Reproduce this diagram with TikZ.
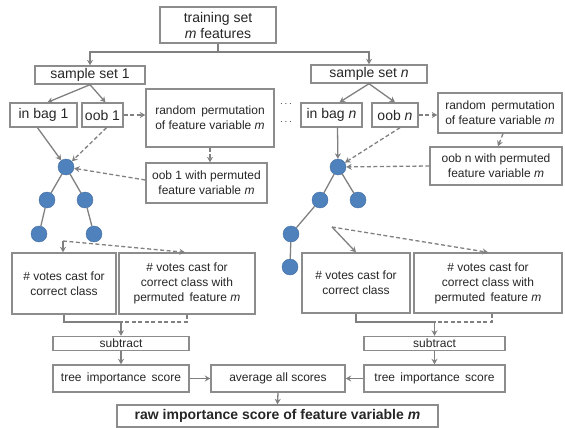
\documentclass[tikz,border=0pt]{standalone}
\usepackage{fontspec}
\setmainfont{Liberation Sans}
\usetikzlibrary{arrows.meta,calc}
\definecolor{boxgray}{HTML}{8C8C8C}
\definecolor{linegray}{HTML}{808080}
\definecolor{treeblue}{HTML}{4F81BD}
\definecolor{txt}{HTML}{262626}
\begin{document}
\begin{tikzpicture}[x=1pt,y=-1pt,
  box/.style={draw=boxgray, line width=1.4pt, inner sep=0pt, align=center, text=txt, font=\fontsize{12}{15}\selectfont},
  bigbox/.style={box, font=\fontsize{14}{16}\selectfont},
  leaf/.style={circle, fill=treeblue, draw=treeblue!85!black, line width=0.4pt, minimum size=16pt, inner sep=0pt},
  conn/.style={draw=linegray, line width=1.3pt},
  arr/.style={conn, -{Stealth[length=5.5pt,width=6pt]}},
  dashln/.style={dash pattern=on 4pt off 2.5pt},
]
\useasboundingbox (0,0) rectangle (565,428);

% top
\node[bigbox, minimum width=116pt, minimum height=36pt] (train) at (218,25) {training set\\\textit{m} features};
\node[bigbox, minimum width=110pt, minimum height=18pt] (ss1) at (90,75) {sample set 1};
\node[bigbox, minimum width=116pt, minimum height=18pt] (ssn) at (369,74) {sample set \textit{n}};
\coordinate (split) at (218,52);
\draw[conn] (train.south) -- (split);
\draw[arr] (split) -| (ss1.north);
\draw[arr] (split) -| (ssn.north);

% second row
\node[bigbox, minimum width=67pt, minimum height=24pt] (inbag1) at (43.5,115) {in bag 1};
\node[bigbox, minimum width=41pt, minimum height=24pt] (oob1) at (102.5,115) {oob 1};
\node[box, minimum width=128pt, minimum height=58pt] (rp1) at (210,118) {random\, permutation\\of feature variable \textit{m}};
\node[bigbox, minimum width=61pt, minimum height=24pt] (inbagn) at (331.5,115) {in bag \textit{n}};
\node[bigbox, minimum width=46pt, minimum height=24pt] (oobn) at (395,115) {oob \textit{n}};
\node[box, minimum width=124pt, minimum height=40pt] (rpn) at (500,113) {random\, permutation\\of feature variable \textit{m}};
\node[text=txt, inner sep=0pt] (dotsa) at (286,104) {$\cdots$};
\node[text=txt, inner sep=0pt] (dotsb) at (286,122) {$\cdots$};

\draw[arr] (ss1.south) -- ([xshift=4pt]inbag1.north);
\draw[arr] (ss1.south) -- ([xshift=3pt]oob1.north);
\draw[arr] (ssn.south) -- ([xshift=8pt]inbagn.north);
\draw[arr] (ssn.south) -- (oobn.north);
\draw[arr, dashln] (oob1.east) -- (oob1.east -| rp1.west);
\draw[arr, dashln] (oobn.east) -- (oobn.east -| rpn.west);

% permuted oob boxes
\node[box, minimum width=121pt, minimum height=40pt] (oobp1) at (206.5,183) {oob 1 with permuted\\feature variable \textit{m}};
\node[box, minimum width=132pt, minimum height=38pt] (oobpn) at (496,166) {oob n with permuted\\feature variable \textit{m}};
\draw[arr, dashln] (rp1.south) -- (rp1.south |- oobp1.north);
\draw[arr, dashln] ([xshift=3pt]rpn.south) -- ([xshift=2pt]oobpn.north);

% tree 1
\node[leaf] (r1) at (66,167) {};
\node[leaf] (a1) at (47,200) {};
\node[leaf] (b1) at (85,200) {};
\node[leaf] (c1) at (39,234) {};
\node[leaf] (d1) at (94,234) {};
\draw[conn] (r1) -- (a1);
\draw[conn] (r1) -- (b1);
\draw[conn] (a1) -- (c1);
\draw[conn] (b1) -- (d1);
\draw[arr] ([xshift=-6pt]inbag1.south) -- (r1);
\draw[arr, dashln] ([xshift=4pt]oob1.south) -- (r1);
\draw[arr, dashln] ([yshift=3pt]oobp1.west) -- (r1);

% tree n
\node[leaf] (rn) at (338,167) {};
\node[leaf] (an) at (320,200) {};
\node[leaf] (bn) at (358,200) {};
\node[leaf] (cn) at (291,234) {};
\node[leaf] (dn) at (290,267) {};
\draw[conn] (rn) -- (an);
\draw[conn] (rn) -- (bn);
\draw[conn] (an) -- (cn);
\draw[conn] (cn) -- (dn);
\draw[arr] ([xshift=6pt]inbagn.south) -- (rn);
\draw[arr, dashln] ([xshift=5pt]oobn.south) -- (rn);
\draw[arr, dashln] (oobpn.west) -- (rn);

% votes boxes
\node[box, minimum width=104pt, minimum height=61pt] (va) at (64,283.5) {\# votes cast for\\correct class};
\node[box, minimum width=136pt, minimum height=61pt] (vb) at (187,283.5) {\# votes cast for\\correct class with\\permuted\, feature \textit{m}};
\node[box, minimum width=108pt, minimum height=60pt] (vc) at (356,283) {\# votes cast for\\correct class};
\node[box, minimum width=148pt, minimum height=60pt] (vd) at (488,283) {\# votes cast for\\correct class with\\permuted\, feature \textit{m}};

\coordinate (t1) at (63,241);
\draw[arr] (t1) -- (t1 |- va.north);
\draw[arr, dashln] (t1) -- ([xshift=-2pt]vb.north);
\coordinate (t2) at (332,227);
\draw[arr] (t2) -- (vc.north);
\draw[arr, dashln] (t2) -- (vd.north);

% subtract
\node[box, minimum width=136pt, minimum height=14pt] (sub1) at (121,343.5) {subtract};
\node[box, minimum width=141pt, minimum height=14pt] (subn) at (434.5,343.5) {subtract};
\coordinate (m1) at (121,322);
\coordinate (m2) at (434.5,322);
\draw[conn] (va.south) |- (m1);
\draw[conn, dashln] (vb.south) |- (m1);
\draw[arr] (m1) -- (sub1.north);
\draw[conn] (vc.south) |- (m2);
\draw[conn, dashln] ([xshift=4pt]vd.south) |- (m2);
\draw[arr] (m2) -- (subn.north);

% scores
\node[box, minimum width=136pt, minimum height=27pt] (ti1) at (121,378.5) {tree\, importance\, score};
\node[box, minimum width=134pt, minimum height=27pt] (avg) at (278,378.5) {average all scores};
\node[box, minimum width=141pt, minimum height=27pt] (tin) at (434.5,378.5) {tree\, importance\, score};
\node[box, minimum width=321pt, minimum height=22pt, font=\fontsize{14}{16}\selectfont\bfseries] (raw) at (277.5,416) {raw importance score of feature variable \textit{m}};
\draw[arr] (sub1.south) -- (ti1.north);
\draw[arr] (subn.south) -- (tin.north);
\draw[arr] (ti1.east) -- (avg.west);
\draw[arr] (tin.west) -- (avg.east);
\draw[arr] (avg.south) -- (raw.north);
\end{tikzpicture}
\end{document}
